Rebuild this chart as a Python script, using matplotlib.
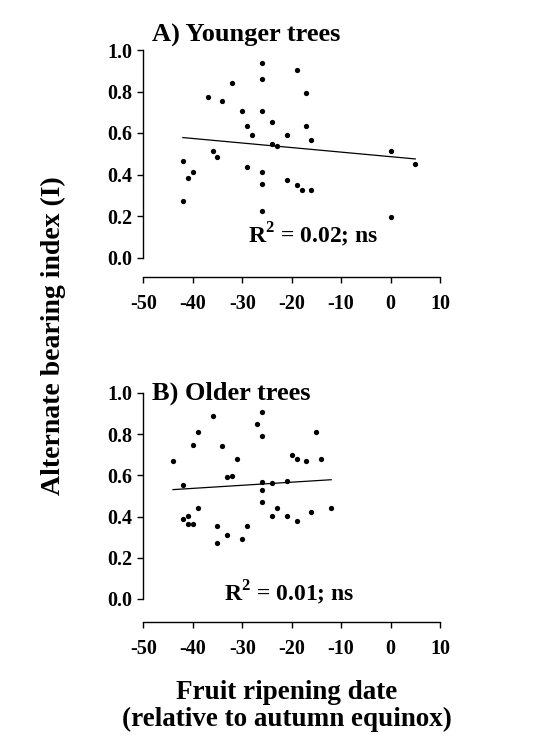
import matplotlib
matplotlib.use('Agg')
import matplotlib.pyplot as plt

plt.rcParams['font.family'] = ['Liberation Serif', 'DejaVu Serif']
plt.rcParams['font.weight'] = 'bold'
plt.rcParams['mathtext.fontset'] = 'custom'
plt.rcParams['mathtext.rm'] = 'Liberation Serif:bold'
plt.rcParams['mathtext.bf'] = 'Liberation Serif:bold'

# A) younger trees
young_date = [-42, -41, -40, -42, -37, -36, -35, -34, -32, -30, -29, -28, -29,
              -26, -26, -26, -26, -26, -26, -24, -24, -23, -21, -21, -19, -19,
              -18, -17, -17, -16, -16, 0, 0, 5]
young_index = [0.465, 0.385, 0.414, 0.273, 0.774, 0.515, 0.485, 0.754, 0.843,
               0.705, 0.634, 0.592, 0.437, 0.936, 0.862, 0.705, 0.414, 0.353,
               0.222, 0.655, 0.546, 0.535, 0.592, 0.372, 0.904, 0.347, 0.323,
               0.793, 0.634, 0.565, 0.323, 0.515, 0.196, 0.453]
young_fit_x = [-42, 5]
young_fit_y = [0.578, 0.475]

# B) older trees
old_date = [-44, -42, -42, -41, -41, -40, -40, -39, -39, -36, -35, -35, -34,
            -33, -33, -32, -31, -30, -29, -27, -26, -26, -26, -26, -26, -24,
            -24, -23, -21, -21, -20, -19, -19, -17, -16, -15, -14, -12]
old_index = [0.670, 0.552, 0.390, 0.402, 0.362, 0.362, 0.749, 0.810, 0.443,
             0.890, 0.352, 0.272, 0.741, 0.312, 0.590, 0.598, 0.680, 0.293,
             0.352, 0.850, 0.909, 0.789, 0.570, 0.530, 0.472, 0.562, 0.402,
             0.443, 0.571, 0.402, 0.701, 0.680, 0.381, 0.670, 0.422, 0.810,
             0.680, 0.443]
old_fit_x = [-44, -12]
old_fit_y = [0.531, 0.579]

x_ticks = [-50, -40, -30, -20, -10, 0, 10]
y_ticks = [0.0, 0.2, 0.4, 0.6, 0.8, 1.0]

W, H = 537, 754
fig = plt.figure(figsize=(W / 100, H / 100), dpi=100)


def panel(rect, xs, ys, fx, fy, title, title_y, r2, r2_xy, offset):
    ax = fig.add_axes(rect)
    ax.plot(xs, ys, 'o', color='black', ms=3.8, mew=0)
    ax.plot(fx, fy, '-', color='black', lw=0.9)
    ax.set_xlim(-50, 10)
    ax.set_ylim(0, 1)
    ax.set_xticks(x_ticks)
    ax.set_yticks(y_ticks)
    ax.set_xticklabels([str(t) for t in x_ticks])
    ax.set_yticklabels(['%.1f' % t for t in y_ticks])
    for s in ['top', 'right']:
        ax.spines[s].set_visible(False)
    ax.spines['bottom'].set_position(('outward', offset))
    ax.spines['left'].set_linewidth(1.0)
    ax.spines['bottom'].set_linewidth(1.0)
    ax.tick_params(axis='both', direction='out', length=4, width=1.0,
                   labelsize=14.5)
    ax.tick_params(axis='x', pad=8)
    ax.tick_params(axis='y', pad=4)
    ax.patch.set_visible(False)
    ax.text(-48.3, title_y, title, fontsize=19, fontweight='bold',
            ha='left', va='center', clip_on=False)
    ax.text(r2_xy[0], r2_xy[1], r2, fontsize=17, ha='center', va='center')
    return ax


panel([143.3 / W, 496.5 / H, 296.7 / W, 207.5 / H],
      young_date, young_index, young_fit_x, young_fit_y,
      'A) Younger trees', 1.07, r'R$^{\mathbf{2}}$ = 0.02; ns', (-15.7, 0.11), 14)
panel([143.3 / W, 155 / H, 296.7 / W, 206 / H],
      old_date, old_index, old_fit_x, old_fit_y,
      'B) Older trees', 1.0, r'R$^{\mathbf{2}}$ = 0.01; ns', (-20.4, 0.03), 16.5)

fig.text(53 / W, 1 - 336 / H, 'Alternate bearing index (I)', rotation=90,
         fontsize=20, fontweight='bold', ha='center', va='center')
fig.text(287 / W, 1 - 706 / H, 'Fruit ripening date\n(relative to autumn equinox)',
         fontsize=19.5, fontweight='bold', ha='center', va='center',
         linespacing=1.05)

fig.savefig('out.png', dpi=100)
